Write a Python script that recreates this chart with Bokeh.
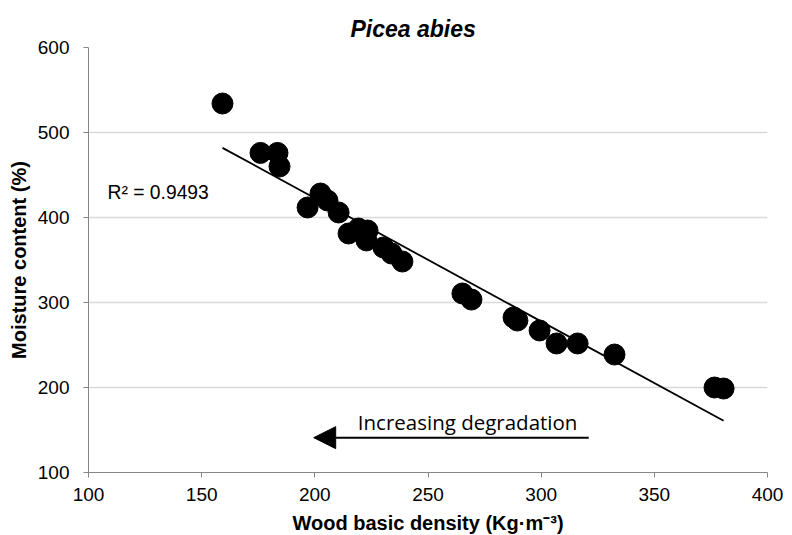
import numpy as np
from bokeh.plotting import figure
from bokeh.models import FixedTicker, Label, Arrow, NormalHead, ColumnDataSource, Range1d
from bokeh.embed import file_html
from bokeh.resources import INLINE

# Data
density = [159.2, 176.0, 183.5, 184.4, 196.8, 202.5, 205.6, 210.5, 214.9, 219.3,
           223.3, 222.8, 230.3, 233.9, 238.7, 265.2, 269.2, 287.8, 289.5, 299.3,
           306.8, 316.1, 332.4, 376.6, 380.6]
moisture = [534.1, 476.0, 476.0, 460.0, 411.8, 428.2, 420.0, 405.9, 381.2, 387.0,
            384.7, 373.0, 364.7, 357.6, 348.2, 310.6, 303.5, 282.4, 278.8, 267.1,
            251.8, 251.8, 238.8, 200.0, 198.8]
x_ticks = [100, 150, 200, 250, 300, 350, 400]
y_ticks = [100, 200, 300, 400, 500, 600]
r2_text = "R\u00b2 = 0.9493"
arrow_from = 321
arrow_to = 199.5
arrow_y = 141
annot_text = "Increasing degradation"

# Linear trendline (least squares) over the data range
slope, intercept = np.polyfit(density, moisture, 1)
tx = [min(density), max(density)]
ty = [slope * v + intercept for v in tx]

p = figure(frame_width=679, frame_height=425,
           min_border_left=88, min_border_top=47, min_border_right=25, min_border_bottom=63,
           x_range=Range1d(100, 400), y_range=Range1d(100, 600),
           output_backend="svg", toolbar_location=None,
           background_fill_color="white", border_fill_color="white")
p.outline_line_color = None

p.title.text = "Picea abies"
p.title.text_font = "Liberation Sans"
p.title.text_font_style = "bold italic"
p.title.text_font_size = "23px"
p.title.text_color = "black"
p.title.align = "left"
p.title.offset = 262
p.title.standoff = 12

FONT = "Liberation Sans"
for ax in (p.xaxis[0], p.yaxis[0]):
    ax.axis_line_color = "#868686"
    ax.major_tick_line_color = "#868686"
    ax.major_tick_out = 5
    ax.major_tick_in = 0
    ax.minor_tick_line_color = None
    ax.major_label_text_font = FONT
    ax.major_label_text_font_size = "19px"
    ax.major_label_text_color = "black"
    ax.axis_label_text_font = FONT
    ax.axis_label_text_font_style = "bold"
    ax.axis_label_text_font_size = "20px"
    ax.axis_label_text_color = "black"

p.xaxis.ticker = FixedTicker(ticks=x_ticks)
p.yaxis.ticker = FixedTicker(ticks=y_ticks)
p.xaxis.axis_label = "Wood basic density (Kg\u00b7m\u207b\u00b3)"
p.yaxis.axis_label = "Moisture content (%)"
p.xaxis.major_label_standoff = 10
p.yaxis.major_label_standoff = 14
p.xaxis.axis_label_standoff = 8
p.yaxis.axis_label_standoff = 5

p.xgrid.grid_line_color = None
p.ygrid.grid_line_color = "#d9d9d9"
p.ygrid.grid_line_width = 1.5

src = ColumnDataSource(dict(x=density, y=moisture))
p.scatter("x", "y", source=src, size=21, fill_color="black", line_color="black")
p.line(tx, ty, line_color="black", line_width=1.8)

p.add_layout(Label(x=108.4, y=429.5, text=r2_text, text_font=FONT, text_font_size="19.3px",
                   text_color="black", text_baseline="middle"))

p.add_layout(Arrow(x_start=arrow_from, y_start=arrow_y, x_end=arrow_to, y_end=arrow_y,
                   line_color="black", line_width=2,
                   end=NormalHead(size=22, fill_color="black", line_color="black")))
p.add_layout(Label(x=267.5, y=159.5, text=annot_text, text_font="Open Sans",
                   text_font_size="20.5px", text_color="black",
                   text_align="center", text_baseline="middle"))

open("out.html", "w").write(file_html(p, INLINE))
